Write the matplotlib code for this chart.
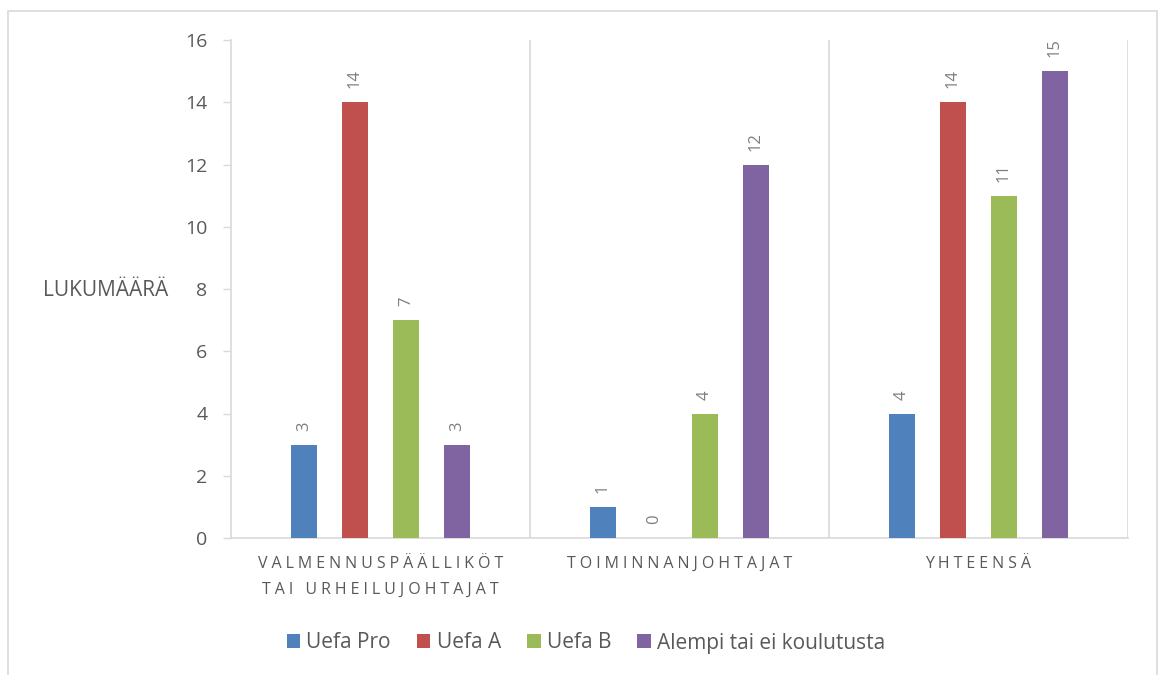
import matplotlib.pyplot as plt
import numpy as np
from matplotlib.patches import Rectangle, Patch

# koulutustaso per ryhmä
categories = ['VALMENNUSPÄÄLLIKÖT\nTAI URHEILUJOHTAJAT', 'TOIMINNANJOHTAJAT', 'YHTEENSÄ']
series_names = ['Uefa Pro', 'Uefa A', 'Uefa B', 'Alempi tai ei koulutusta']
uefa_pro = [3, 1, 4]
uefa_a = [14, 0, 14]
uefa_b = [7, 4, 11]
alempi = [3, 12, 15]
yticks = [0, 2, 4, 6, 8, 10, 12, 14, 16]

colors = ['#4F81BD', '#C0504D', '#9BBB59', '#8064A2']
FAM = ['Open Sans', 'DejaVu Sans']
plt.rcParams['font.family'] = FAM
GRID = '#D9D9D9'
TXT = '#595959'


def spaced(label):
    # wide letter spacing, one line at a time
    return '\n'.join('\u2005'.join(line) for line in label.split('\n'))


fig = plt.figure(figsize=(11.63, 6.75), dpi=100)
ax = fig.add_axes([231 / 1163, 137 / 675, 897 / 1163, 498 / 675])

# outer chart frame
fig.add_artist(Rectangle((8 / 1163, -0.05), 1149 / 1163, (675 - 11) / 675 + 0.05,
                         transform=fig.transFigure, fill=False, edgecolor=GRID,
                         linewidth=1.2, clip_on=False))

x = np.arange(len(categories)) + 0.5
width = 0.09
step = 0.1706
all_series = [uefa_pro, uefa_a, uefa_b, alempi]
for i, (vals, name, c) in enumerate(zip(all_series, series_names, colors)):
    pos = x + (i - 1.5) * step
    bars = ax.bar(pos, vals, width, color=c, label=name, zorder=3)
    for b, v in zip(bars, vals):
        ax.annotate(str(v), (b.get_x() + b.get_width() / 2, v),
                    xytext=(0, 10), textcoords='offset points',
                    rotation=90, ha='center', va='bottom',
                    fontsize=12, color='#7F7F7F')

ax.set_xlim(0, 3)
ax.set_ylim(0, 16)
ax.set_yticks(yticks)
ax.tick_params(axis='y', length=6, width=1, color=GRID, labelsize=14,
               labelcolor=TXT, pad=11)

ax.set_xticks(x)
ax.set_xticklabels([spaced(c) for c in categories], fontsize=11.5, color=TXT,
                   linespacing=1.85)
ax.tick_params(axis='x', length=0, pad=13)

for xv in [1, 2, 3]:
    ax.axvline(xv, color=GRID, linewidth=1.2, zorder=1)

for s in ['top', 'right']:
    ax.spines[s].set_visible(False)
for s in ['left', 'bottom']:
    ax.spines[s].set_color(GRID)
    ax.spines[s].set_linewidth(1.2)

fig.text(43 / 1163, (675 - 291) / 675, 'LUKUMÄÄRÄ', fontsize=15, color=TXT,
         ha='left', va='center')

handles = [Patch(facecolor=c, label=n) for c, n in zip(colors, series_names)]
fig.legend(handles=handles, loc='center', bbox_to_anchor=(586 / 1163, (675 - 643) / 675),
           ncol=4, frameon=False, fontsize=15, labelcolor=TXT,
           handlelength=0.65, handleheight=0.65, handletextpad=0.3, columnspacing=1.25)

fig.savefig('out.png', dpi=100)
